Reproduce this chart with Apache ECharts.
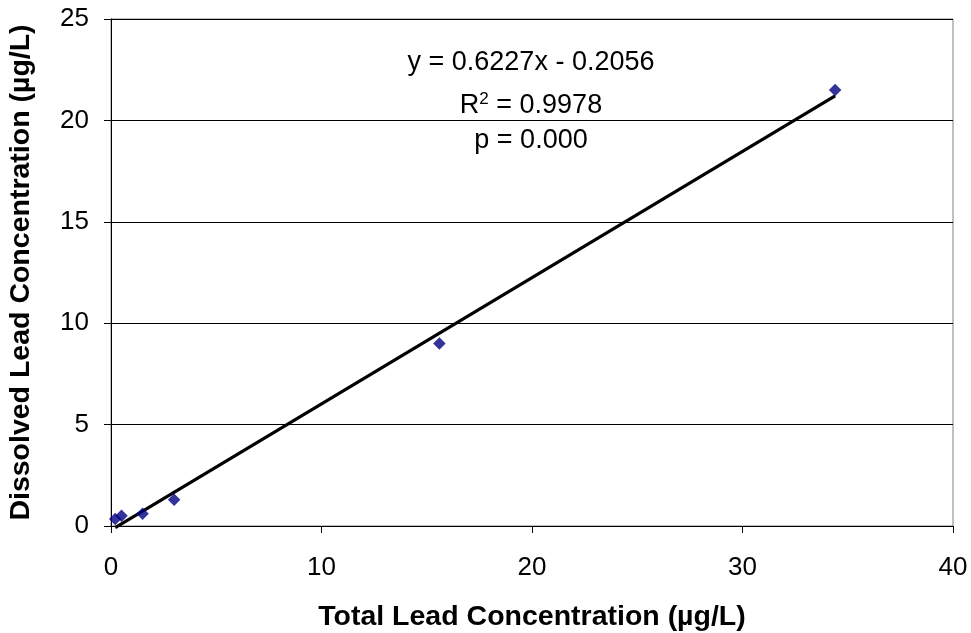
<!DOCTYPE html>
<html>
<head>
<meta charset="utf-8">
<script src="https://cdn.jsdelivr.net/npm/echarts@6/dist/echarts.min.js"></script>
<style>
html,body{margin:0;padding:0;background:#fff;}
#chart{width:971px;height:633px;}
</style>
</head>
<body>
<div id="chart"></div>
<script>
// Data
const totalLead = [0.2, 0.5, 1.5, 3.0, 15.6, 34.4];
const dissolvedLead = [0.35, 0.5, 0.6, 1.3, 9.0, 21.5];
const slope = 0.6227;
const intercept = -0.2056;
const xTicks = [0, 10, 20, 30, 40];
const yTicks = [0, 5, 10, 15, 20, 25];
const annotationLines = ['y = 0.6227x - 0.2056', 'R{sup|2} = 0.9978', 'p = 0.000'];

const points = totalLead.map((x, i) => [x, dissolvedLead[i]]);
const xMinData = Math.min(...totalLead);
const xMaxData = Math.max(...totalLead);
const trend = [[xMinData, slope * xMinData + intercept], [xMaxData, slope * xMaxData + intercept]];

const FONT = '"Liberation Sans", Arial, sans-serif';
const annotationY = [63, 106, 141];
const chart = echarts.init(document.getElementById('chart'));
chart.setOption({
  backgroundColor: '#fff',
  animation: false,
  grid: { left: 111, top: 19, right: 18, bottom: 107, containLabel: false, outerBoundsMode: 'none', show: true, borderColor: '#808080', borderWidth: 1, backgroundColor: 'transparent' },
  xAxis: {
    type: 'value', min: xTicks[0], max: xTicks[xTicks.length - 1], interval: xTicks[1] - xTicks[0],
    name: 'Total Lead Concentration (µg/L)', nameLocation: 'middle', nameGap: 77,
    nameTextStyle: { fontFamily: FONT, fontSize: 28.5, fontWeight: 'bold', color: '#000' },
    axisLine: { lineStyle: { color: '#000', width: 1 } },
    axisTick: { show: true, inside: false, length: 7, lineStyle: { color: '#000' } },
    axisLabel: { fontFamily: FONT, fontSize: 26, color: '#000', margin: 29 },
    splitLine: { show: false }
  },
  yAxis: {
    type: 'value', min: yTicks[0], max: yTicks[yTicks.length - 1], interval: yTicks[1] - yTicks[0],
    name: 'Dissolved Lead Concentration (µg/L)', nameLocation: 'middle', nameGap: 75, nameRotate: 90,
    nameTextStyle: { fontFamily: FONT, fontSize: 28.5, fontWeight: 'bold', color: '#000' },
    axisLine: { show: true, lineStyle: { color: '#000', width: 1 } },
    axisTick: { show: true, inside: false, length: 7, lineStyle: { color: '#000' } },
    axisLabel: { fontFamily: FONT, fontSize: 26, color: '#000', margin: 22 },
    splitLine: { show: true, lineStyle: { color: '#000', width: 1 } }
  },
  series: [
    {
      type: 'line', data: trend, symbol: 'none', silent: true, clip: false,
      lineStyle: { color: '#000', width: 3.2 }, z: 2
    },
    {
      type: 'scatter', data: points, symbol: 'diamond', symbolSize: 12.5, clip: false,
      itemStyle: { color: '#000080' }, z: 3
    }
  ],
  graphic: annotationLines.map((t, i) => ({
    type: 'text',
    style: {
      text: t, x: 531, y: annotationY[i], align: 'center', verticalAlign: 'middle',
      font: '27px ' + FONT, fill: '#000',
      rich: { sup: { fontSize: 17, verticalAlign: 'top', padding: [0, 0, 14, 0], fontFamily: FONT } }
    }
  }))
});
</script>
</body>
</html>
